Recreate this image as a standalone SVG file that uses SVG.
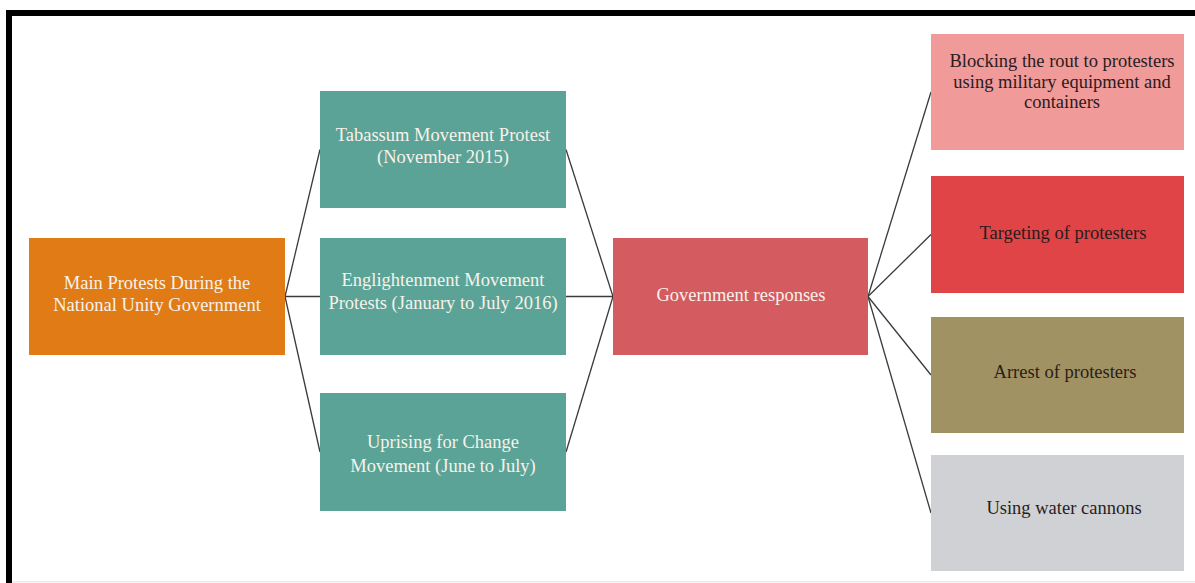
<svg xmlns="http://www.w3.org/2000/svg" width="1195" height="583" viewBox="0 0 1195 583">
<style>
text{font-family:"Liberation Serif","Times New Roman",serif;font-size:18.5px;text-anchor:middle}
.w{fill:#f7f2ea}
.d{fill:#2a1c1c}
.c line{stroke:#3a3a3a;stroke-width:1.3}
</style>
<rect width="1195" height="583" fill="#ffffff"/>
<g id="frame">
<rect x="6" y="10" width="1189" height="6" fill="#000"/>
<rect x="6" y="10" width="6" height="573" fill="#000"/>
<rect x="12" y="581" width="1183" height="1.5" fill="#ebebeb"/>
</g>
<g class="c" id="connectors">
<line x1="285" y1="296.5" x2="320" y2="149.5"/>
<line x1="285" y1="296.5" x2="320" y2="296.5"/>
<line x1="285" y1="296.5" x2="320" y2="452"/>
<line x1="566" y1="149.5" x2="613" y2="296.5"/>
<line x1="566" y1="296.5" x2="613" y2="296.5"/>
<line x1="566" y1="452" x2="613" y2="296.5"/>
<line x1="868" y1="296.5" x2="931" y2="92"/>
<line x1="868" y1="296.5" x2="931" y2="234.5"/>
<line x1="868" y1="296.5" x2="931" y2="375"/>
<line x1="868" y1="296.5" x2="931" y2="513"/>
</g>
<g id="main">
<rect x="29" y="238" width="256" height="117" fill="#E07B16"/>
<text class="w" x="157" y="289">Main Protests During the</text>
<text class="w" x="157" y="311">National Unity Government</text>
</g>
<g id="tabassum">
<rect x="320" y="91" width="246" height="117" fill="#5BA396"/>
<text class="w" x="443" y="141">Tabassum Movement Protest</text>
<text class="w" x="443" y="163">(November 2015)</text>
</g>
<g id="enlightenment">
<rect x="320" y="238" width="246" height="117" fill="#5BA396"/>
<text class="w" x="443" y="286">Englightenment Movement</text>
<text class="w" x="443" y="309">Protests (January to July 2016)</text>
</g>
<g id="uprising">
<rect x="320" y="393" width="246" height="118" fill="#5BA396"/>
<text class="w" x="443" y="448">Uprising for Change</text>
<text class="w" x="443" y="472">Movement (June to July)</text>
</g>
<g id="government">
<rect x="613" y="238" width="255" height="117" fill="#D45B5F"/>
<text class="w" x="741" y="301">Government responses</text>
</g>
<g id="blocking">
<rect x="931" y="34" width="253" height="116" fill="#F09A9A"/>
<text class="d" x="1062" y="67">Blocking the rout to protesters</text>
<text class="d" x="1062" y="88">using military equipment and</text>
<text class="d" x="1062" y="108">containers</text>
</g>
<g id="targeting">
<rect x="931" y="176" width="253" height="117" fill="#E04446"/>
<text class="d" x="1063" y="239">Targeting of protesters</text>
</g>
<g id="arrest">
<rect x="931" y="317" width="253" height="116" fill="#A09262"/>
<text class="d" x="1065" y="378">Arrest of protesters</text>
</g>
<g id="water">
<rect x="931" y="455" width="253" height="116" fill="#D0D1D5"/>
<text class="d" x="1064" y="514">Using water cannons</text>
</g>
</svg>
